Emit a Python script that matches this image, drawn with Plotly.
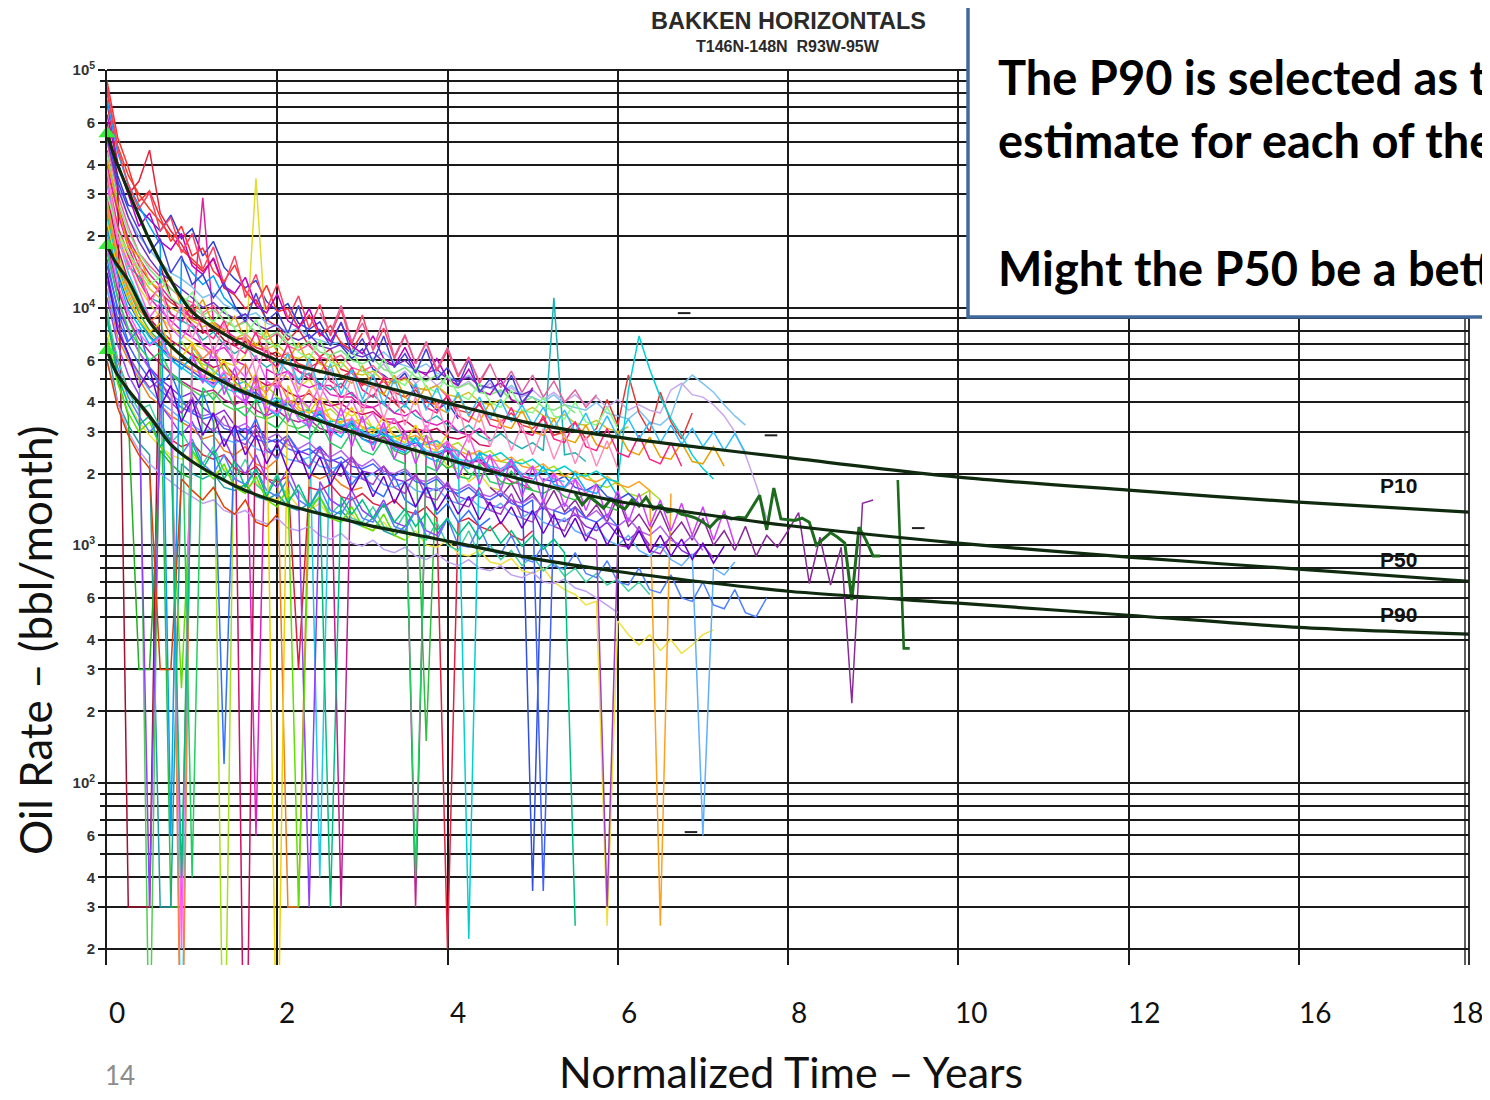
import plotly.graph_objects as go

# ---------------- data ----------------
# type curves (years, bbl/month)
curve_t = [0, 0.1, 0.25, 0.5, 0.75, 1, 1.5, 2, 3, 4, 5, 6, 7, 8, 10, 12, 14, 16]
p10 = [54000, 42000, 31000, 19200, 13000, 9600, 7300, 6000, 4900, 3960, 3250, 2850, 2570, 2335, 1934, 1704, 1517, 1377]
p50 = [18300, 15500, 13000, 8700, 6900, 5800, 4600, 3880, 2900, 2300, 1840, 1530, 1350, 1210, 1020, 890, 793, 705]
p90 = [6620, 5400, 4500, 3500, 2650, 2250, 1780, 1520, 1230, 1040, 880, 775, 700, 640, 570, 507, 451, 422]
curve_names = ["P10", "P50", "P90"]

# individual wells: production rate sampled every STEP years
STEP = 0.125
well_01 = [72000, 41000, 30000, 34000, 46000, 25000, 21000, 18500, 15500, 14200, 16000, 12100, 11300, 9900, 10800, 8900, 8300, 7300, 8100, 6900, 6200, 6700, 5500, 5300, 4700, 5200, 4300, 4000, 3600]
well_02 = [58000, 36000, 27000, 26000, 23500, 21000, 24500, 19500, 21500, 16500, 19000, 14800, 13200, 12100, 13000, 10600, 9700, 10400, 8600, 8100, 8700, 7200, 6900, 6100, 6700, 5500, 5200, 4800, 5300, 4300, 4100, 3700, 4000, 3400]
well_03 = [41000, 21000, 15500, 12200, 10400, 9100, 8300, 7700, 7100, 6700, 6400, 5900, 5700, 6300, 35000, 6900, 5300, 5100, 4600, 5000, 4200, 4000, 3700, 3500, 3700, 3100, 3000, 2700, 2950, 2550, 2350, 2500, 2150, 2100, 1850, 2000, 1750, 1700, 1550]
well_04 = [46000, 27000, 19500, 16200, 13800, 12300, 10800, 10200, 9000, 29000, 8700, 8100, 7500, 7300, 6800, 6500, 5900, 5800, 5400, 5200, 4700, 4700, 4200, 4200, 3800, 3800, 3400, 3400, 3000, 3050, 2700, 2750, 2500, 2500, 2250, 2250, 2050, 2000, 1850, 1800, 1700]
well_05 = [30000, 20000, 15000, 13500, 11000, 10500, 9400, 8800, 8300, 7300, 7900, 7000, 6400, 6900, 6100, 5600, 6000, 5400, 5000, 5300, 4800, 4500, 4800, 4300, 4000, 4300, 3900, 3600, 3900, 3500, 3300, 3500, 3200, 3000, 3200, 2900, 2750, 2950, 2700, 2550, 2700, 2500, 11000, 2400, 2450, 2250]
well_06 = [50000, 33000, 24000, 20000, 17500, 15500, 14000, 13200, 12200, 11000, 11500, 10300, 9800, 9200, 9500, 8600, 8300, 7900, 8200, 7500, 7300, 7000, 7200, 6600, 6400, 6100, 6500, 5900, 5700, 5500, 5800, 5300, 5100, 4900, 5200, 4700, 4600, 4400, 4700, 4300, 4200, 4000, 4300, 3900, 3800, 3700, 4000, 3600, 3500, 3400, 3700, 3300, 3200, 3500, 4700, 5200, 4800, 4400, 3900, 3500, 3200]
well_07 = [38000, 26000, 19000, 15000, 13000, 11500, 10500, 9800, 9000, 8700, 8100, 7700, 7300, 7500, 6800, 6600, 6200, 6400, 5800, 5600, 5900, 5300, 5100, 5400, 4800, 4600, 4900, 4400, 4200, 4500, 4000, 3900, 4200, 3700, 3600, 3900, 3400, 3300, 3600, 3200, 3100, 3400, 2900, 3000, 3300, 2800, 3100, 4100, 3200, 5200, 3600, 3000, 4400, 3300, 2800, 3600]
well_08 = [1650, 1480, 1600, 1520, 1430, 1560, 1470, 1420, 1550, 1460, 1590, 1420, 1470, 1380, 1400, 1350, 1330, 1300, 1250, 1190, 1280, 1330, 1290, 1310, 1300, 1450, 1620, 1160, 1740, 1290, 1280, 1270, 1300, 1250, 1000, 1060, 1130, 1080, 1020, 587, 1190, 1050, 900, 900]
well_09 = [1880, 368, 368]
well_10 = [1750, 1600, 1820, 1500, 1650, 1420, 1700, 1380, 1550, 1300, 1480, 1250, 1600, 1200, 1350, 1150, 1400, 1100, 1250, 1050, 1300, 1000, 1150, 950, 1200, 900, 1100, 980, 1150, 1370, 690, 1080, 680, 980, 216, 1500, 1550]
well_11 = [5600, 5200, 5800, 5000, 5400, 4800, 5200, 4700, 5100, 4600, 4900, 4400, 4800, 4300, 4600, 4200, 4500, 4100, 4400, 4000, 4300, 3900, 4200, 3800, 4100, 3700, 3900, 3700, 3600, 4500, 4800, 4300, 4200, 3900, 3500, 3000, 2400, 1800, 1300]
well_12 = [25000, 15000, 12000, 9500, 8000, 7200, 30, 30, 6500, 5600, 5200, 5800, 4900, 4400, 4600, 4000, 3800, 4100, 3500, 3300, 3600, 3100, 3000, 3200, 2800, 2700, 2900, 2500, 2400, 2600, 150, 2300, 2100, 2250, 2000, 1950, 2100, 1850, 1800, 1900, 1700, 1650, 1750, 1600, 1550, 1650, 1500, 1450, 1400]
well_13 = [15000, 10000, 8000, 6500, 5600, 5000, 4600, 4200, 4400, 3800, 3500, 3700, 3200, 3000, 3200, 2800, 2700, 2900, 2500, 2400, 2600, 2300, 2200, 2350, 2050, 2000, 2150, 1900, 1850, 1950, 1750, 1700, 1800, 1600, 1550, 1650, 1480, 1430, 1550, 1400, 1350, 1450, 1300, 1260, 1350, 1200, 1150, 1250, 1100, 1050, 1150, 1000, 980, 1080, 950, 900, 1000, 880]
well_14 = [35000, 20000, 14000, 11000, 9000, 8000, 7000, 5, 6800, 6000, 5400, 5000, 4700, 4900, 4300, 4000, 4200, 3800, 3600, 3750, 40, 3400, 3200, 3300, 3000, 2900, 3050, 2750, 2650, 2800, 2500, 2450, 2550, 2300, 2250, 2350, 2150, 2100, 2200, 2000, 1950, 2050, 1900, 1850]
well_15 = [12000, 7500, 6000, 5000, 4200, 3900, 3500, 3300, 3100, 2800, 2900, 2500, 2400, 2600, 2200, 2100, 2300, 30, 30, 2000, 1900, 2000, 1800, 1700, 1750]
well_16 = [40000, 25000, 18000, 14000, 11000, 9800, 8800, 8000, 7500, 7000, 6500, 6800, 6000, 5700, 60, 5500, 5200, 5400, 4800, 4600, 4800, 4300, 4200, 4400, 3900, 3800, 4000, 3600, 3500, 3700, 3300, 3200, 3350, 3000, 2900, 3100, 2800]
well_17 = [28000, 17000, 12500, 10000, 8600, 7600, 6800, 7200, 6200, 5800, 5500, 3, 5200, 4800, 4500, 4700, 4200, 4000, 4150, 3700, 3600, 3750, 3400, 3300, 3400, 3100, 3000, 3150, 2850, 2800, 2900, 2650, 2600, 2700, 2450, 2400, 2500, 2250, 2200, 2300, 2100, 2050, 2150, 1950, 1900, 2000, 1800, 1750, 1850, 1650, 1600, 1700, 1550]
well_18 = [9000, 6000, 4500, 3900, 3400, 3000, 2800, 2600, 2700, 2400, 2300, 2400, 2100, 2000, 2150, 1900, 1850, 1950, 300, 1750, 1700, 1800, 1600, 1550, 1650, 1500, 1450, 1550, 1400, 1350, 1450, 1300, 20, 1250, 1300, 1200, 1150, 1250, 1100, 1050, 1150]
well_19 = [22000, 14000, 10500, 8800, 7600, 6800, 6200, 5800, 5400, 5000, 4800, 5000, 4500, 4300, 4400, 4000, 3800, 3950, 3600, 3450, 3550, 3250, 3150, 3250, 2950, 2850, 2950, 2700, 2600, 2700, 2450, 2400, 2500, 2250, 2200, 2300, 2100, 2050, 2150, 1950, 35, 1900, 1850, 1950, 1750, 1700, 1800, 1600, 1550, 1650, 1500]
well_20 = [8000, 5200, 4000, 3300, 2900, 2600, 2400, 2300, 2400, 2100, 2000, 2100, 1800, 1750, 1850, 1600, 1550, 1650, 1450, 1400, 1500, 1300, 1250, 1350, 1200, 1150, 1250, 1100, 1050, 1150, 1000, 980, 1050, 920, 900, 950, 850, 830, 880, 780, 760, 800, 700, 650, 620, 560, 580, 25, 480, 420, 380, 420, 360, 400, 350, 380, 420, 440]
well_21 = [50000, 30000, 22000, 17000, 15000, 13500, 12000, 11000, 10500, 9500, 10200, 8800, 8300, 8800, 7700, 7300, 7800, 6900, 6600, 7000, 6200, 6000, 6300, 5600, 5400, 5700, 5100, 4900, 5100, 4600, 4500, 4700, 4200]
well_22 = [18000, 11000, 8000, 6500, 5500, 4800, 4300, 4000, 3700, 3500, 3600, 3200, 3100, 3250, 2900, 2800, 2950, 2650, 2550, 2700, 2450, 2350, 2500, 2250, 2150, 2300, 2050, 2000, 2100, 1900, 1850, 1950, 1750, 1700, 1800, 1650, 1600, 1700, 1550, 1500, 1600, 1450, 1400, 1500, 1350, 1300, 1400, 1250, 1200, 1300, 1150, 1100, 1200, 1050, 1000, 1100, 950]
well_23 = [7000, 4000, 3200, 2700, 2400, 30, 30, 2200, 2000, 1900, 2000, 1750, 1700, 1800, 1600, 1550, 1650, 1450, 1400, 1500, 1350, 1300, 1400, 1250, 1200, 1300, 1150, 1100, 1200]
well_24 = [30000, 18000, 13000, 10500, 9000, 8000, 7300, 6800, 6300, 6000, 5600, 5800, 5200, 2, 5000, 4700, 4800, 4400, 4200, 4350, 4000, 3850, 3950, 3650, 3550, 3650, 3350, 3250, 3350, 3100, 3000, 3100, 2850, 2800, 2900, 2650, 2600]
well_25 = [20000, 12000, 9000, 7000, 5, 6000, 5200, 4800, 4500, 4200, 4400, 3900, 3700, 3850, 3500, 3400, 3550, 3200, 3100, 3250, 3000]
well_26 = [14000, 9000, 7000, 5800, 5000, 4500, 4100, 3800, 3600, 3400, 3500, 3100, 3000, 3100, 2800, 2700, 2800, 2550, 2450, 2550, 2350, 2250, 2350, 2150, 2100, 2200, 2000, 1950, 2050, 1850, 1800, 1900, 1700, 1650, 1750, 1600, 1550, 1650, 1500, 1450, 1550, 35, 1400, 1350, 1450, 1300, 1250, 1350, 1200]
well_27 = [26000, 16000, 11500, 9000, 7800, 7000, 6300, 5900, 5500, 5200, 4900, 5100, 4600, 4400, 4600, 4100, 3900, 4100, 3700, 3600, 3750, 3400, 3300, 3400, 3150, 3050, 3150, 2900, 2800, 2900, 2700, 2600, 2700, 2500, 2400, 2500, 2300, 2250, 2350, 2150, 2100, 2200, 2000, 1950, 2050, 1900, 1850, 1950, 1800, 1750, 1850, 1700, 25, 1650]
well_28 = [45000, 28000, 21000, 17000, 14500, 13000, 12000, 11200, 10000, 9300, 9800, 8800, 8300, 8700, 7900, 7500, 7900, 7100, 6800, 7200, 6500, 6300, 6600, 6000, 5800, 6100, 5500, 5300, 5600, 5100, 4900, 5200, 4700, 4600, 4800, 4400, 4300, 4500, 4100, 4000, 4200, 3800, 3700, 3900, 3600]
well_29 = [19000, 12000, 9000, 7400, 6500, 5800, 5300, 4900, 4600, 4400, 4500, 4100, 3900, 4100, 3700, 3500, 3700, 3400, 3300, 3400, 3100, 3000, 30, 3100, 2800, 2700, 2850, 2600, 2500, 30, 2450, 2400, 2500, 2250, 2200, 2300, 2100, 2050, 2150, 1950, 1900]
well_30 = [12000, 8000, 6200, 5200, 4500, 4000, 3700, 3400, 3200, 3000, 3100, 2800, 2700, 2800, 2550, 2450, 2550, 2300, 2250, 2350, 2150, 2100, 2150, 1950, 1900, 2000, 1800, 1750, 1850, 1700, 1650, 1750, 1550, 1500, 1600, 1450, 1400, 1500, 1350, 1300, 1400, 1250, 1200, 1300, 1150, 1100, 1200, 1050, 1000, 1100, 950, 900, 1000, 870, 820, 920, 60, 800, 750, 850]
well_31 = [60000, 35000, 30, 30, 30, 15000, 11000, 9500, 8500, 7800, 8200, 7300, 6900, 7200, 6600, 6300, 6500]
well_32 = [36000, 22000, 17000, 14000, 12000, 11000, 10000, 9400, 8800, 8300, 8700, 7800, 7400, 7800, 7000, 6700, 7000, 6300, 6100, 6400, 5800, 5600, 5900, 5300, 5200, 5400, 4900, 4800, 5000, 4600, 4500, 4700, 4300, 4200, 4400, 4000, 3900, 4100, 3700, 3600, 3800, 3500, 3400, 3550, 3250, 3200, 3350, 3100, 3000, 3150]
well_33 = [6000, 4000, 3000, 2500, 2200, 2000, 1850, 1700, 1600, 1500, 1550, 1400, 1350, 1400, 1280, 1230, 1300, 1180, 1150, 1200, 1100, 1060, 1120, 1020, 990, 1050, 960, 930, 980, 900, 870, 920, 850, 820, 870, 800, 780, 820, 750, 730, 770, 700, 690, 720, 660, 640, 600, 560, 520]
well_34 = [24000, 15000, 11000, 8800, 7500, 6700, 6000, 5600, 5200, 4900, 5100, 4600, 4400, 4600, 4100, 3900, 4100, 3700, 3600, 3700, 3400, 3300, 3400, 3100, 3050, 3150, 2900, 2850, 2950, 2700, 2650, 2750, 2550, 2500, 22, 2450, 2350, 2450, 2250, 2200, 2300, 2100, 2050, 2150, 2000, 1950, 2050, 1900, 1850, 4500, 7600, 5500, 4200, 3400, 2900, 2400, 2100, 1900]
well_35 = [52000, 32000, 24000, 19000, 16000, 14000, 13000, 12000, 11000, 10000, 10500, 9500, 9000, 9400, 8500, 8100, 8500, 7600, 7300, 7700, 6900, 6700, 7000, 6400, 6200, 6500, 5900, 5700, 6000, 5400, 5300, 5500, 5000, 4900, 5100, 4700, 4600, 4800, 4400, 4300, 4500]
well_36 = [80000, 48000, 36000, 30000, 26000, 23000, 20000, 17500, 16000, 14500]
well_37 = [10000, 5000, 3500, 300, 300, 2500, 2200, 2000, 1900]
well_38 = [90000, 52000, 39000, 28000, 31000, 24000, 19000, 22000, 16500, 17800, 14200, 12900, 15100, 11800, 10300, 12400, 9600, 9900, 8200, 9300, 7600, 8400, 7100, 6600, 7800]
well_39 = [16000, 9800, 7200, 8100, 5600, 4700, 5300, 4100, 3600, 4400, 3300, 120, 3100, 2800, 3400, 2600, 2300, 2900, 2450, 2100, 2600, 1950, 2250, 1800, 2050, 1700, 1600, 1950, 1550, 1450, 1800, 1350, 1500, 1250, 1400, 1200, 1300]
well_40 = [33000, 19000, 15500, 11800, 9100, 10400, 8200, 7400, 8600, 6900, 6100, 7200, 5700, 5100, 6300, 4900, 4600, 5400, 4200, 3800, 4700, 3900, 3500, 4100, 3300, 3600, 3000, 3400, 2800, 2600, 3200, 2500, 2750, 2350, 2900, 2200, 2400, 2050, 2300, 1950, 2150, 1850, 2000, 1750, 1900, 1650, 1800]
well_41 = [9500, 6100, 4400, 3700, 3900, 3100, 2700, 3000, 2500, 2200, 2600, 2050, 1900, 2300, 1800, 1650, 2000, 1550, 1700, 1450, 1600, 1350, 1500, 1300, 1250, 1450, 1200, 1150, 1350, 1100, 1050, 1250, 1000, 950, 1150, 900, 1000, 870, 950, 820, 900, 780, 850, 740, 800, 700, 760, 680, 720, 640, 700, 620]
well_42 = [42000, 27000, 18000, 16500, 12800, 11900, 13500, 10100, 9400, 10800, 8500, 8000, 9200, 7300, 6900, 8000, 6500, 6000, 7100, 5700, 5300, 6300, 5100, 4800, 5700, 4600, 4300, 5200, 4200, 3900, 4700, 3800, 3600, 4300, 3500, 3300, 4000, 3200, 3100, 3700, 3000, 2900, 3400, 2800, 2700, 3200, 2650, 2550, 3000, 2500, 2400, 2850, 2350, 2300, 2700, 2250, 2200, 2600, 2150]
well_43 = [11000, 7000, 5200, 4300, 30, 3900, 3400, 2900, 3300, 2700, 2400, 2800, 2250, 2000, 2400, 1900, 1750, 2100, 1650, 30, 1850, 1550, 1450, 1700, 1400, 1300, 1550, 1250, 1200, 1400, 1150, 1100, 1300]
well_44 = [21000, 13500, 9800, 8400, 7000, 7700, 6100, 5500, 6300, 5000, 4600, 5300, 4300, 4000, 4700, 3800, 3500, 4200, 3400, 3150, 3700, 3050, 2850, 3350, 2800, 2650, 3100, 2550, 2450, 2850, 2350, 2250, 2650, 2200, 2100, 2450, 2050, 1950, 2300, 1900, 1850, 2150, 1800, 1750, 2000, 1700, 1650, 1900, 1600]
well_45 = [27000, 16000, 12000, 9800, 8700, 9400, 7600, 3, 7000, 6100, 6700, 5400, 5000, 5800, 4700, 4400, 5100, 4100, 3900, 4500, 3700]
well_46 = [65000, 40000, 30000, 22000, 25000, 19000, 17500, 20500, 15000, 13800, 16200, 12300, 11500, 13400, 10200, 9500, 11400, 8800, 8200, 9900, 7800, 7200, 8600, 6900, 6400, 7600, 6100, 5700, 6800, 5500, 5200, 6100, 5000, 4700, 5500, 4500, 4300, 5000, 4100, 3900, 4600]
well_47 = [7500, 4800, 3600, 3000, 3300, 2600, 2300, 250, 2500, 2100, 1900, 2200, 1750, 1650, 1950, 1550, 1450, 1750, 30, 1400, 1600, 1300, 1250, 1450, 1200, 1150, 1350, 1100, 1050]
well_48 = [36000, 22000, 16500, 13000, 10800, 12200, 9400, 8700, 10300, 8000, 7400, 8800, 6900, 6400, 7900, 6100, 5600, 7000, 5400, 5000, 6200, 4900, 4600, 5600, 4500, 4200, 5100, 4100, 3900, 4700, 3800, 3600, 4300, 3500, 3300, 4000, 3200, 3100, 3800, 3000, 2900, 3500, 2800, 2700, 3300, 2600, 2500, 3100, 2450, 2350, 2900, 2300, 2200, 2700, 2150]
well_49 = [17000, 11000, 8200, 6900, 6000, 6500, 5300, 4900, 40, 4600, 4100, 4700, 3800, 3500, 4100, 3300, 3100, 3600, 2950, 2800, 3300, 2700, 2550, 3000, 2500, 2400, 2800, 2300, 2200, 40, 2150, 2050, 2400, 1950, 1900, 2200, 1850, 1800, 2050, 1750, 1700]
well_50 = [8800, 5600, 4200, 3500, 3000, 3300, 2700, 2400, 2800, 2200, 2000, 2400, 1900, 1800, 2100, 1700, 1600, 1900, 1550, 1450, 1750, 1400, 1350, 1600, 1300, 1250, 1500, 1200, 1150, 1400, 1100, 1050, 1300, 1000, 980, 1200, 950, 920, 1100, 880, 850, 1000, 820, 790, 930, 760, 730, 860, 700, 680, 800, 650, 630, 750, 600, 580, 700, 560, 540, 650, 520, 500, 600]
well_51 = [23000, 14500, 10800, 8900, 7900, 8600, 6800, 6200, 7100, 5600, 5200, 6000, 4800, 4500, 5300, 4200, 4, 4700, 3800, 3600, 4200, 3400, 3250, 3800, 3100, 2950, 3500, 2850, 2700, 3200, 2600, 2500, 2950]
well_52 = [13000, 8500, 6300, 5300, 4600, 5000, 4000, 3600, 4200, 3300, 3000, 3500, 2800, 2650, 3100, 2500, 2350, 2800, 2250, 2150, 2550, 2050, 1950, 2350, 1900, 1800, 2150, 1750, 1650, 2000, 1600, 1550, 1850, 1500, 1450, 1750, 1400, 1350, 1650, 1300, 1250, 1550, 1200, 1150, 1450, 1100, 1050, 30, 1000, 980, 1200, 950, 920, 1100]
well_53 = [75000, 45000, 33000, 27000, 22000, 18500, 60, 16000, 14000, 12500, 13600, 11000, 10000]
well_54 = [6000, 3800, 2900, 2400, 2100, 300, 300, 1900, 1700, 1550, 1750, 1450, 1350, 1550, 1250, 1200, 1350]
well_55 = [30000, 21000, 17000, 14500, 12500, 13500, 11000, 10200, 11600, 9300, 8700, 9900, 8100, 7600, 8900, 7200, 6800, 8000, 6500, 6100, 7300, 5900, 5600, 6700, 5400, 5100, 6100, 5000, 4700, 5600, 4600, 4400, 5200, 4300, 4100, 4800, 4000, 3800, 4500, 3700, 3600, 4200, 3500, 3400, 4000, 3300, 3200, 3800, 3100]
well_56 = [20000, 12500, 9500, 7800, 6900, 7500, 6000, 20, 6300, 5100, 4700, 5400, 4300, 4000, 4700, 3800, 3600, 4200, 3400, 3200, 3800, 3100, 2950, 3450, 2850]
well_57 = [85000, 47000, 33000, 26000, 30500, 21000, 24000, 17000, 20500, 14500, 18000, 12500, 16500, 11000, 13800, 9800, 12600, 9000, 11200, 8200, 10300, 7600, 9800, 7000, 9300, 6600, 8200, 6100, 7600, 5800, 7100, 5400, 6600, 5100, 6200, 4800, 5800]
well_58 = [55000, 34000, 26000, 21000, 17000, 19500, 14000, 16500, 12500, 13800, 11000, 12700, 10200, 8700, 11500, 8800, 9600, 7800, 10200, 7400, 8100, 6900, 8700, 6400, 7400, 5900, 7600, 5600, 6400, 5300, 6700, 5000, 5600, 4700, 6000, 4400, 5000, 4200, 5200, 4000, 4500]
well_59 = [6400, 4800, 6900, 4300, 5600, 3900, 5200, 3500, 4900, 3300, 4300, 3100, 4100, 2800, 3800, 2600, 3500, 2500, 3300, 2300, 3000, 2200, 2900, 2050, 2700, 1900, 2500, 1800, 2400, 1700, 2300, 1600, 2150, 1500, 2000, 1450, 1900, 1400, 1800, 1300, 1700, 1250, 1650, 1200, 1550, 1150, 1500, 1100, 1450, 1050, 1400, 1000]
well_60 = [38000, 20000, 14500, 15800, 10200, 12600, 8200, 10400, 7400, 9500, 6400, 8600, 5800, 7800, 5200, 7100, 4700, 6500, 4400, 6000, 4100, 5500, 3800, 5100, 3600, 4800, 3400, 4500, 3200, 4200, 3000, 4000, 2900, 3800, 2700, 3600, 2600, 3400, 2500, 3200, 2400, 3100, 2300, 2950, 2200, 2850, 2150, 2750, 2100]
well_61 = [5200, 6400, 4800, 6100, 4500, 5800, 4300, 5500, 4100, 5200, 3900, 5000, 3800, 4800, 3700, 4600, 3600, 4400, 3500, 4200, 3400, 4100, 3300, 3900, 3200, 3800, 3100, 3700, 3000, 3600, 2900, 3500, 2850, 3400, 2800, 3300, 2700, 3200, 2650, 3100, 2600, 3000, 2500, 2950, 2450]
well_62 = [9500, 7800, 10200, 7200, 8600, 6700, 9000, 6200, 7700, 5800, 7200, 5500, 6800, 5200, 6100, 4900, 5800, 4600, 5400, 4400, 5200, 4200, 4900, 4000, 4500, 3800, 4300]
well_63 = [14000, 8000, 6400, 4600, 5500, 3800, 4700, 3300, 4100, 2900, 3600, 2600, 3200, 2400, 2900, 2200, 2700, 2050, 2500, 1900, 2350, 1800, 2200, 1700, 2050, 1600, 1950, 1500, 1850, 1450, 1750, 1400, 1650, 1350, 1600, 1280, 1520, 1230, 1450, 1180, 1400, 1120, 1350, 1080, 1300, 1040, 1250, 1000, 1200, 960, 1150, 930, 1100, 900, 1060, 870, 1020, 840, 990]
well_64 = [9000, 5200, 3900, 3200, 3500, 2600, 3000, 40, 2700, 2100, 2500, 1900, 2250, 1750, 2100, 1600, 1950, 1500, 1800, 1450, 1700, 30, 1600, 1350, 1550, 1300, 1480, 1250, 1420, 1200, 1360, 1150, 1300, 1100, 1250, 1060, 1200, 1020, 1150, 990, 1100, 960, 1060, 930, 25]

# isolated single-month readings (short black dashes): year, rate
dash_t = [6.78, 7.80, 9.53, 6.86]
dash_v = [9480, 2900, 1180, 62]

# (values, colour, start year, step in years, line width)
LW = 1.5
WELLS = [
    (well_01, "#e8203a", 0.0, STEP, LW), (well_02, "#2a3fd8", 0.0, STEP, LW),
    (well_03, "#e2dc30", 0.0, STEP, LW), (well_04, "#e0209a", 0.0, STEP, LW),
    (well_05, "#1fb0b0", 0.0, STEP, LW), (well_06, "#7fc3ef", 0.0, STEP, LW),
    (well_07, "#e23a3a", 0.0, STEP, LW), (well_10, "#8a2a9a", 4.5, STEP, LW),
    (well_11, "#c8a8e8", 3.0, STEP, LW), (well_12, "#2fbf3f", 0.0, STEP, LW),
    (well_13, "#8a2be2", 0.0, STEP, LW), (well_14, "#22c8e6", 0.0, STEP, LW),
    (well_15, "#f08020", 0.0, STEP, LW), (well_16, "#e020c0", 0.0, STEP, LW),
    (well_17, "#a6e022", 0.0, STEP, LW), (well_18, "#e02040", 0.0, STEP, LW),
    (well_19, "#3050e0", 0.0, STEP, LW), (well_20, "#f0e040", 0.0, STEP, LW),
    (well_21, "#ff5a9a", 0.0, STEP, LW), (well_22, "#b060f0", 0.0, STEP, LW),
    (well_23, "#20a0a0", 0.0, STEP, LW), (well_24, "#d01060", 0.0, STEP, LW),
    (well_25, "#50d050", 0.0, STEP, LW), (well_26, "#4060ff", 0.0, STEP, LW),
    (well_27, "#ffa020", 0.0, STEP, LW), (well_28, "#80e080", 0.0, STEP, LW),
    (well_29, "#c02090", 0.0, STEP, LW), (well_30, "#60b0ff", 0.0, STEP, LW),
    (well_31, "#a01030", 0.0, STEP, LW), (well_32, "#d0c020", 0.0, STEP, LW),
    (well_33, "#c0a0f0", 0.0, STEP, LW), (well_34, "#00d0d0", 0.0, STEP, LW),
    (well_35, "#7030c0", 0.0, STEP, LW), (well_36, "#f04020", 0.0, STEP, LW),
    (well_37, "#20b020", 0.0, STEP, LW), (well_38, "#ff3030", 0.0, STEP, LW),
    (well_39, "#3070ff", 0.0, STEP, LW), (well_40, "#f060f0", 0.0, STEP, LW),
    (well_41, "#40d0a0", 0.0, STEP, LW), (well_42, "#e8a000", 0.0, STEP, LW),
    (well_43, "#9040ff", 0.0, STEP, LW), (well_44, "#00b8ff", 0.0, STEP, LW),
    (well_45, "#ff8040", 0.0, STEP, LW), (well_46, "#c000c0", 0.0, STEP, LW),
    (well_47, "#60e000", 0.0, STEP, LW), (well_48, "#ff2080", 0.0, STEP, LW),
    (well_49, "#20d060", 0.0, STEP, LW), (well_50, "#5080ff", 0.0, STEP, LW),
    (well_51, "#f0d000", 0.0, STEP, LW), (well_52, "#a040c0", 0.0, STEP, LW),
    (well_53, "#00a0ff", 0.0, STEP, LW), (well_54, "#e04000", 0.0, STEP, LW),
    (well_55, "#80ff80", 0.0, STEP, LW), (well_56, "#ff60ff", 0.0, STEP, LW),
    (well_57, "#ff4060", 0.0, STEP, LW), (well_58, "#4040e0", 0.0, STEP, LW),
    (well_59, "#d040ff", 1.0, STEP, LW), (well_60, "#ff8cc0", 0.0, STEP, LW),
    (well_61, "#30c0ff", 2.0, STEP, LW), (well_62, "#e060a0", 2.5, STEP, LW),
    (well_63, "#6a00d0", 0.0, STEP, LW), (well_64, "#00c080", 0.0, STEP, LW),
    (well_08, "#1d6b1d", 5.5, 1 / 12, 3.0), (well_09, "#1d6b1d", 9.29, 0.07, 2.6),
]

x_tick_vals = [0, 2, 4, 6, 8, 10, 12, 14, 16]
x_tick_text = ["0", "2", "4", "6", "8", "10", "12", "16", "18"]
x_label_shift = [10, 10, 10, 11, 11, 13, 15, 16, -2]

y_tick_vals = [1e5, 6e4, 4e4, 3e4, 2e4, 1e4, 6e3, 4e3, 3e3, 2e3, 1e3, 600, 400, 300, 200, 100, 60, 40, 30, 20]
y_tick_text = ["10<sup>5</sup>", "6", "4", "3", "2", "10<sup>4</sup>", "6", "4", "3", "2",
               "10<sup>3</sup>", "6", "4", "3", "2", "10<sup>2</sup>", "6", "4", "3", "2"]
y_minor_vals = [9e4, 8e4, 7e4, 5e4, 9e3, 8e3, 7e3, 5e3, 900, 800, 700, 500, 90, 80, 70, 50]

# ---------------- figure ----------------
# the page body adds an 8px margin on every side, so the figure is laid out
# 8px up/left and sized so the page never needs scrollbars
OFF = 8
W, H = 1490 - 2 * OFF, 1100 - 2 * OFF
L, T = 107 - OFF, 70 - OFF
R, B = W - (1469 - OFF), H - (965 - OFF)
PW, PH = W - L - R, H - T - B


def px(xp):
    return (xp - OFF - L) / PW


def py(yp):
    return (H - B - (yp - OFF)) / PH


fig = go.Figure()

for vals, col, t0, step, lw in WELLS:
    fig.add_trace(go.Scatter(
        x=[t0 + i * step for i in range(len(vals))], y=vals,
        mode="lines", line=dict(color=col, width=lw), hoverinfo="skip"))

fig.add_trace(go.Scatter(
    x=dash_t, y=dash_v, mode="markers",
    marker=dict(symbol="line-ew", size=9, line=dict(color="#222222", width=2)),
    hoverinfo="skip"))

for vals in (p10, p50, p90):
    fig.add_trace(go.Scatter(
        x=curve_t, y=vals, mode="lines",
        line=dict(color="#0f2a0f", width=3.2, shape="spline", smoothing=0.8),
        hoverinfo="skip"))
    fig.add_trace(go.Scatter(
        x=[curve_t[0]], y=[vals[0]], mode="markers",
        marker=dict(symbol="triangle-up", size=15, color="#36ee36"),
        hoverinfo="skip", cliponaxis=False))

grid_col = "#1a1a1a"
fig.update_layout(
    width=W, height=H, showlegend=False,
    paper_bgcolor="white", plot_bgcolor="white",
    margin=dict(l=L, r=R, t=T, b=B, autoexpand=False),
    xaxis=dict(range=[0, 16], tickvals=x_tick_vals, showticklabels=False,
               showgrid=True, gridcolor=grid_col, gridwidth=1.6,
               zeroline=False, showline=False, ticks=""),
    yaxis=dict(type="log", range=[1.233, 5], tickvals=y_tick_vals, ticktext=y_tick_text,
               showgrid=True, gridcolor=grid_col, gridwidth=1.6,
               ticks="outside", ticklen=7, tickwidth=1.5, tickcolor=grid_col,
               tickfont=dict(family="Liberation Sans", size=15, color="#333333", weight="bold"),
               showline=True, linecolor=grid_col, linewidth=1.8, zeroline=False,
               minor=dict(tickvals=y_minor_vals, ticks="outside", ticklen=5,
                          tickcolor=grid_col, showgrid=True, gridcolor=grid_col, gridwidth=1.6)),
)

# plot frame pieces (top edge and doubled right edge)
fig.add_shape(type="line", xref="paper", yref="paper", x0=0, x1=1, y0=1, y1=1,
              line=dict(color=grid_col, width=1.8))
fig.add_shape(type="line", xref="paper", yref="paper", x0=1, x1=1, y0=0, y1=1,
              line=dict(color=grid_col, width=1.8))
fig.add_shape(type="line", xref="paper", yref="paper", x0=px(1465), x1=px(1465), y0=0, y1=1,
              line=dict(color=grid_col, width=1.4))


def label(text, xp, yp, size, family="Lato", color="#111111", weight="normal", xanchor="center", angle=0):
    fig.add_annotation(text=text, xref="paper", yref="paper", x=px(xp), y=py(yp),
                       xanchor=xanchor, yanchor="middle", textangle=angle, showarrow=False,
                       borderpad=0,
                       font=dict(family=family, size=size, color=color, weight=weight))


# curve labels
for name, yp in zip(curve_names, [485, 559, 614]):
    label(name, 1398, yp, 21, family="Liberation Sans", weight="bold")

# titles
label("BAKKEN HORIZONTALS", 788, 21, 23.5, family="Liberation Sans", color="#2a2a2a", weight="bold")
label("T146N-148N  R93W-95W", 788, 46, 16, family="Liberation Sans", color="#2a2a2a", weight="bold")

# slide-style x tick labels
for v, s, sh in zip(x_tick_vals, x_tick_text, x_label_shift):
    fig.add_annotation(text=s, xref="x", yref="paper", x=v, y=py(1012), xshift=sh,
                       xanchor="center", yanchor="middle",
                       showarrow=False, font=dict(family="Lato", size=28, color="#111111"))

label("Normalized Time – Years", 791, 1071, 43)
label("Oil Rate – (bbl/month)", 35, 640, 44, angle=-90)
label("14", 120, 1075, 26, color="#8c8c8c")

# callout box
fig.add_shape(type="rect", xref="paper", yref="paper", x0=px(968), x1=px(1510), y0=py(317), y1=py(-20),
              fillcolor="white", line=dict(color="#41699c", width=3.5), layer="above")
for txt, yp in [("The P90 is selected as the", 77), ("estimate for each of the", 140),
                ("Might the P50 be a better", 268)]:
    label(txt, 997, yp, 47, color="#000000", weight="bold", xanchor="left")

fig.write_html("out.html")
